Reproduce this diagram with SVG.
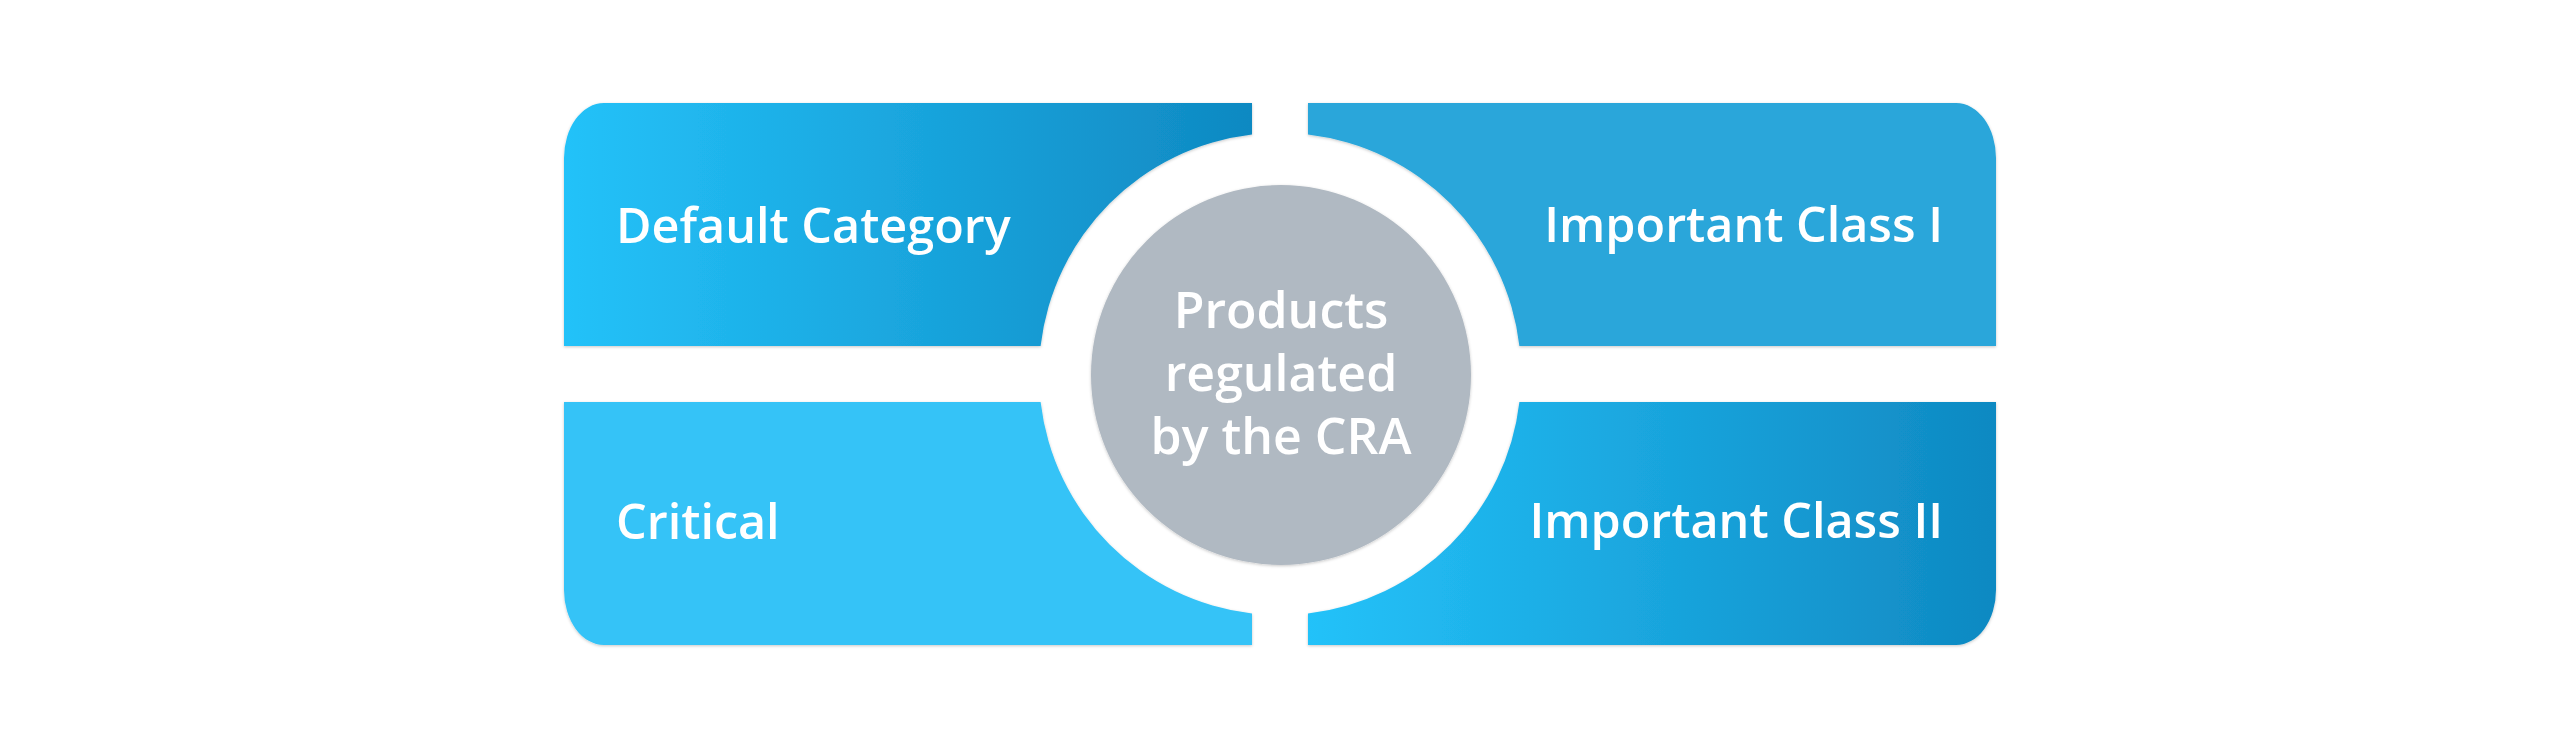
<svg xmlns="http://www.w3.org/2000/svg" width="2560" height="748" viewBox="0 0 2560 748">
<defs>
<linearGradient id="gTL" gradientUnits="userSpaceOnUse" x1="564" y1="0" x2="1252" y2="0">
<stop offset="0" stop-color="#24C2F9"/><stop offset="1" stop-color="#0F89C2"/>
</linearGradient>
<linearGradient id="gBR" gradientUnits="userSpaceOnUse" x1="1308" y1="0" x2="1996" y2="0">
<stop offset="0" stop-color="#24C2F9"/><stop offset="1" stop-color="#0F89C2"/>
</linearGradient>
<filter id="sh" x="-5%" y="-5%" width="110%" height="110%">
<feDropShadow dx="0" dy="1" stdDeviation="1.5" flood-color="#000" flood-opacity="0.22"/>
</filter>
</defs>
<style>
.q{filter:url(#sh);}
.t{font-family:"Open Sans","Noto Sans","Liberation Sans",sans-serif;font-size:48.5px;font-weight:600;fill:#FFFFFF;}
.m{font-size:50px;}
.c{text-anchor:middle;}
.e{text-anchor:end;}
</style>
<rect width="2560" height="748" fill="#FFFFFF"/>
<g id="default-category">
<path class="q" fill="url(#gTL)" d="M564,158 A40,55 0 0 1 604,103 L1252,103 L1252,134.6 A241,241 0 0 0 1040.6,346 L564,346 Z"/>
<text class="t" x="616" y="243">Default Category</text>
</g>
<g id="important-class-1">
<path class="q" fill="#29A6DA" d="M1308,103 L1956,103 A40,55 0 0 1 1996,158 L1996,346 L1519.4,346 A241,241 0 0 0 1308,134.6 Z"/>
<text class="t e" x="1943" y="242">Important Class I</text>
</g>
<g id="critical">
<path class="q" fill="#35C3F7" d="M564,402 L1040.6,402 A241,241 0 0 0 1252,613.4 L1252,645 L604,645 A40,55 0 0 1 564,590 Z"/>
<text class="t" x="616" y="539">Critical</text>
</g>
<g id="important-class-2">
<path class="q" fill="url(#gBR)" d="M1308,645 L1308,613.4 A241,241 0 0 0 1519.4,402 L1996,402 L1996,590 A40,55 0 0 1 1956,645 Z"/>
<text class="t e" x="1943" y="538">Important Class II</text>
</g>
<g id="center">
<circle class="q" cx="1281" cy="375" r="190" fill="#B0B9C2"/>
<text class="t c m" x="1281" y="328">Products</text>
<text class="t c m" x="1281" y="391">regulated</text>
<text class="t c m" x="1281" y="454">by the CRA</text>
</g>
<g id="connectors"/>
</svg>
